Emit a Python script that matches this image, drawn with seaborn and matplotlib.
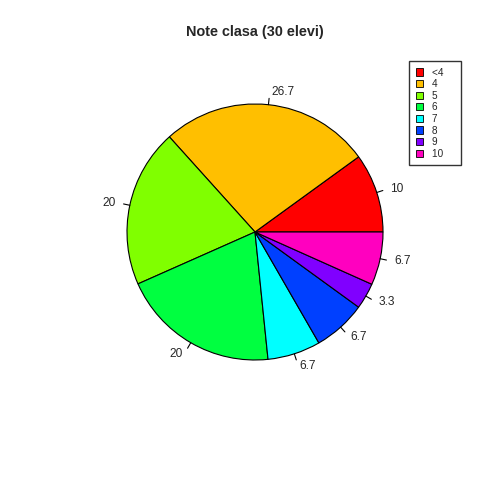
import numpy as np
import matplotlib
matplotlib.use("Agg")
import matplotlib.pyplot as plt
import seaborn as sns
from matplotlib.patches import Patch

# note din clasa (procente din 30 elevi)
categories = ["<4", "4", "5", "6", "7", "8", "9", "10"]
percents = [10, 26.7, 20, 20, 6.7, 6.7, 3.3, 6.7]
labels = ["10", "26.7", "20", "20", "6.7", "6.7", "3.3", "6.7"]
colors = ["#FF0000", "#FFBF00", "#80FF00", "#00FF40",
          "#00FFFF", "#0040FF", "#8000FF", "#FF00BF"]

sns.set_style("white")
plt.rcParams['font.family'] = ['Liberation Sans', 'DejaVu Sans']

fig = plt.figure(figsize=(4.8, 4.8), dpi=100)
cx, cy, r = 255 / 480, 1 - 232 / 480, 128 / 480
ax = fig.add_axes([cx - r, cy - r, 2 * r, 2 * r])

wedges, _ = ax.pie(percents, colors=colors, startangle=0, counterclock=True,
                   radius=1, wedgeprops=dict(edgecolor="black", linewidth=0.8))
ax.set_xlim(-1, 1)
ax.set_ylim(-1, 1)
ax.set_aspect("equal")
ax.axis("off")

# etichete ca in R: tick scurt si text la 1.1 * raza
for w, lab in zip(wedges, labels):
    ang = np.deg2rad((w.theta1 + w.theta2) / 2)
    x, y = np.cos(ang), np.sin(ang)
    ax.plot([x, 1.05 * x], [y, 1.05 * y], color="black", lw=0.8, clip_on=False)
    ax.text(1.1 * x + (0.01 if x > 0 else -0.01), 1.1 * y, lab,
            ha="left" if x > 0 else "right",
            va="center", fontsize=8.6, clip_on=False)

fig.text(0.53, 1 - 32 / 480, "Note clasa (30 elevi)", ha="center", va="center",
         fontsize=10.4, fontweight="bold")

handles = [Patch(facecolor=c, edgecolor="black", linewidth=0.6) for c in colors]
leg = fig.legend(handles, [c + "    " for c in categories], loc="upper left",
                 bbox_to_anchor=(409 / 480, 1 - 61 / 480), fontsize=7.2,
                 frameon=True, fancybox=False, edgecolor="black",
                 handlelength=0.75, handleheight=0.75, handletextpad=0.9,
                 borderpad=0.65, labelspacing=0.16, borderaxespad=0)
leg.get_frame().set_linewidth(1.0)

fig.savefig("out.png", dpi=100)
